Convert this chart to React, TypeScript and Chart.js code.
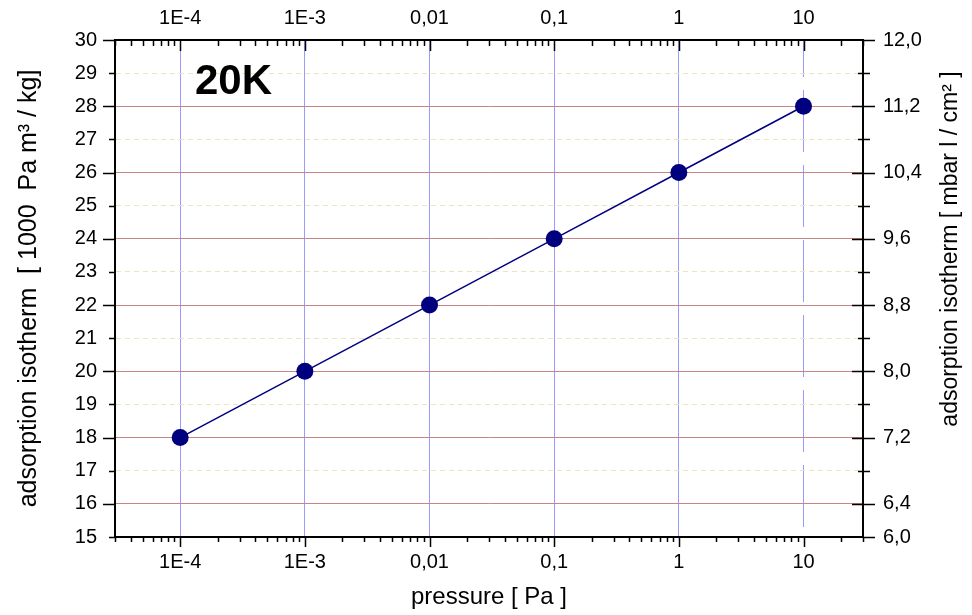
import React, { useEffect, useRef } from "react";
import { Chart, registerables } from "chart.js";

Chart.register(...registerables);

// ---- data ----
const PRESSURE_PA: number[] = [1e-4, 1e-3, 0.01, 0.1, 1, 10];
const ADSORPTION: number[] = [18, 20, 22, 24, 26, 28];

// ---- axes ----
const X_MIN = 3e-5;
const X_MAX = 30;
const X_TICKS: number[] = [1e-4, 1e-3, 0.01, 0.1, 1, 10];
const X_TICK_LABELS: string[] = ["1E-4", "1E-3", "0,01", "0,1", "1", "10"];
const Y_MIN = 15;
const Y_MAX = 30;
const Y2_MIN = 6.0;
const Y2_MAX = 12.0;
const Y2_TICKS: number[] = [6.0, 6.4, 7.2, 8.0, 8.8, 9.6, 10.4, 11.2, 12.0];
const Y2_MINOR_TICKS: number[] = [6.8, 7.6, 8.4, 9.2, 10.0, 10.8, 11.6];

const TEMP_LABEL = "20K";
const X_TITLE = "pressure [ Pa ]";
const Y_TITLE = "adsorption isotherm  [ 1000  Pa m\u00B3 / kg]";
const Y2_TITLE = "adsorption isotherm [ mbar l / cm\u00B2 ]";

const FONT = '"Liberation Sans", Arial, Helvetica, sans-serif';

const decorPlugin = {
  id: "decor",
  afterDraw(chart: any) {
    const { ctx, chartArea: a, scales } = chart;
    const xs = scales.x;
    const ys = scales.y;
    const y2 = scales.y2;
    ctx.save();
    ctx.strokeStyle = "#000";
    ctx.lineWidth = 1.5;
    ctx.beginPath();
    // log minor/major ticks on bottom (outward) and top (inward)
    for (let e = -5; e <= 1; e++) {
      for (let m = 1; m <= 9; m++) {
        const v = m * Math.pow(10, e);
        if (v < X_MIN * 0.999 || v > X_MAX * 1.001) continue;
        const px = Math.round(xs.getPixelForValue(v)) + 0.5;
        const major = m === 1;
        ctx.moveTo(px, a.bottom);
        ctx.lineTo(px, a.bottom + (major ? 10 : 5));
        ctx.moveTo(px, a.top);
        ctx.lineTo(px, a.top + (major ? 11 : 6));
      }
    }
    // left ticks (outward)
    for (let v = Y_MIN; v <= Y_MAX; v++) {
      const py = Math.round(ys.getPixelForValue(v)) + 0.5;
      ctx.moveTo(a.left - (v % 2 === 0 ? 12 : 6), py);
      ctx.lineTo(a.left, py);
    }
    // right ticks (crossing)
    Y2_TICKS.forEach((v) => {
      const py = Math.round(y2.getPixelForValue(v)) + 0.5;
      const edge = v === Y2_MIN || v === Y2_MAX;
      ctx.moveTo(a.right - (edge ? 0 : 11), py);
      ctx.lineTo(a.right + 12, py);
    });
    Y2_MINOR_TICKS.forEach((v) => {
      const py = Math.round(y2.getPixelForValue(v)) + 0.5;
      ctx.moveTo(a.right - 5, py);
      ctx.lineTo(a.right + 7, py);
    });
    ctx.stroke();

    // temperature label
    ctx.fillStyle = "#000";
    ctx.font = `bold 42px ${FONT}`;
    ctx.textAlign = "left";
    ctx.textBaseline = "alphabetic";
    ctx.fillText(TEMP_LABEL, a.left + 80, a.top + 54);

    // right axis title (reads bottom-to-top)
    ctx.font = `23px ${FONT}`;
    ctx.textAlign = "center";
    ctx.textBaseline = "middle";
    ctx.translate(951, 249);
    ctx.rotate(-Math.PI / 2);
    ctx.fillText(Y2_TITLE, 0, 0);
    ctx.restore();
  },
};

export default function App() {
  const ref = useRef<HTMLCanvasElement | null>(null);

  useEffect(() => {
    document.body.style.margin = "0";
    const canvas = ref.current;
    if (!canvas) return;
    const tickFont = { family: FONT, size: 20 };
    const chart = new Chart(canvas, {
      type: "line",
      data: {
        datasets: [
          {
            data: PRESSURE_PA.map((p, i) => ({ x: p, y: ADSORPTION[i] })),
            borderColor: "#000080",
            borderWidth: 1.5,
            backgroundColor: "#000080",
            pointBackgroundColor: "#00007f",
            pointBorderColor: "#00007f",
            pointBorderWidth: 0,
            pointRadius: 8.5,
            fill: false,
            tension: 0,
            xAxisID: "x",
            yAxisID: "y",
          },
        ],
      },
      plugins: [decorPlugin],
      options: {
        animation: false,
        responsive: false,
        devicePixelRatio: 1,
        layout: { padding: 0 },
        plugins: {
          legend: { display: false },
          tooltip: { enabled: false },
          title: { display: false },
        },
        scales: {
          x: {
            type: "logarithmic",
            position: "bottom",
            min: X_MIN,
            max: X_MAX,
            afterBuildTicks: (s: any) => {
              s.ticks = X_TICKS.map((v) => ({ value: v, major: true }));
            },
            afterFit: (s: any) => {
              s.height = 78;
            },
            ticks: {
              autoSkip: false,
              maxRotation: 0,
              padding: 13,
              color: "#000",
              font: tickFont,
              callback: (_v: any, i: number) => X_TICK_LABELS[i],
            },
            grid: {
              color: "#9a9aff",
              lineWidth: 1,
              drawTicks: false,
            },
            border: {
              color: "#000",
              width: 2,
              dash: (c: any) => (c.tick && c.tick.value === 10 ? [62, 13] : []),
              dashOffset: 25,
            },
            title: {
              display: true,
              text: X_TITLE,
              color: "#000",
              font: { family: FONT, size: 24 },
              padding: { top: 0, bottom: 3 },
            },
          },
          x2: {
            type: "logarithmic",
            axis: "x",
            position: "top",
            min: X_MIN,
            max: X_MAX,
            afterBuildTicks: (s: any) => {
              s.ticks = X_TICKS.map((v) => ({ value: v, major: true }));
            },
            afterFit: (s: any) => {
              s.height = 40;
            },
            ticks: {
              autoSkip: false,
              maxRotation: 0,
              padding: 10,
              color: "#000",
              font: tickFont,
              callback: (_v: any, i: number) => X_TICK_LABELS[i],
            },
            grid: { drawOnChartArea: false, drawTicks: false },
            border: { color: "#000", width: 2 },
          },
          y: {
            type: "linear",
            position: "left",
            min: Y_MIN,
            max: Y_MAX,
            afterFit: (s: any) => {
              s.width = 115;
            },
            ticks: {
              stepSize: 1,
              autoSkip: false,
              padding: 18,
              color: "#000",
              font: tickFont,
            },
            grid: {
              drawTicks: false,
              lineWidth: 1,
              color: (c: any) => {
                const v = c.tick ? c.tick.value : null;
                if (v === null || v === Y_MIN || v === Y_MAX) return "rgba(0,0,0,0)";
                return v % 2 === 0 ? "#c78585" : "#ece4bf";
              },
            },
            border: {
              color: "#000",
              width: 2,
              dash: (c: any) => (c.tick && c.tick.value % 2 === 1 ? [5, 4] : []),
            },
            title: {
              display: true,
              text: Y_TITLE,
              color: "#000",
              font: { family: FONT, size: 25 },
              padding: { top: 14, bottom: 0 },
            },
          },
          y2: {
            type: "linear",
            axis: "y",
            position: "right",
            min: Y2_MIN,
            max: Y2_MAX,
            afterBuildTicks: (s: any) => {
              s.ticks = Y2_TICKS.map((v) => ({ value: v }));
            },
            afterFit: (s: any) => {
              s.width = 109;
            },
            ticks: {
              autoSkip: false,
              padding: 20,
              color: "#000",
              font: tickFont,
              callback: (v: any) => Number(v).toFixed(1).replace(".", ","),
            },
            grid: { drawOnChartArea: false, drawTicks: false },
            border: { color: "#000", width: 2 },
          },
        },
      } as any,
    });
    return () => chart.destroy();
  }, []);

  return (
    <div style={{ width: 972, height: 615, background: "#fff" }}>
      <canvas ref={ref} width={972} height={615} style={{ display: "block" }} />
    </div>
  );
}
